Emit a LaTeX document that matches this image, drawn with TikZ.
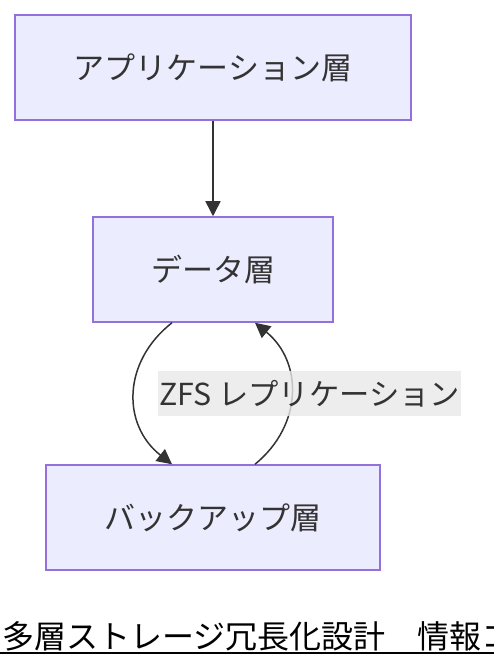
\documentclass[tikz,border=0pt]{standalone}
\usepackage{fontspec}
\setmainfont{Noto Sans CJK JP}
\usepackage{xcolor}
\usetikzlibrary{positioning,arrows.meta}
\definecolor{layerfill}{HTML}{ECECFF}
\definecolor{layerline}{HTML}{9370DB}
\definecolor{ink}{HTML}{333333}
\definecolor{tagfill}{HTML}{E8E8E8}

\begin{document}
\begin{tikzpicture}[x=1pt, y=-1pt,
    layer/.style={draw=layerline, line width=1.5pt, fill=layerfill, text=ink,
                  minimum height=105pt, inner sep=0pt, font=\fontsize{31}{36}\selectfont},
    flow/.style={draw=ink, line width=1.5pt, -{Triangle[length=15pt,width=15pt]}},
    tag/.style={fill=tagfill, fill opacity=0.8, text opacity=1, text=ink, inner sep=1pt,
                minimum height=45pt, font=\fontsize{30.3}{36}\selectfont}]
      %\draw [dotted] (0,0) grid (494,668);
      \clip (0,0) rectangle (494,668);
      \node [layer, minimum width=396pt] (app)    at (213, 67.5) {アプリケーション層};
      \node [layer, minimum width=240pt] (data)   at (213,269.5) {データ層};
      \node [layer, minimum width=334pt] (backup) at (213,517.5) {バックアップ層};
      \coordinate (dout) at ([xshift=-41pt]data.south);
      \coordinate (din)  at ([xshift=42pt]data.south);
      \coordinate (bin)  at ([xshift=-41pt]backup.north);
      \coordinate (bout) at ([xshift=42pt]backup.north);
      \draw [flow] (app) -- (data);
      \draw [flow] (dout) .. controls (122,362) and (122,425) .. (bin);
      \draw [flow] (bout) .. controls (303,425) and (303,362) .. (din);
      \node [tag] (zfs) at (309.5,393.5) {ZFS レプリケーション};
      \node [anchor=base west, inner sep=0pt, font=\fontsize{32}{36}\selectfont] (title) at (2,648)
            {多層ストレージ冗長化設計　情報コ};
      \draw [line width=2pt] (0,653) -- (494,653);
\end{tikzpicture}
\end{document}
